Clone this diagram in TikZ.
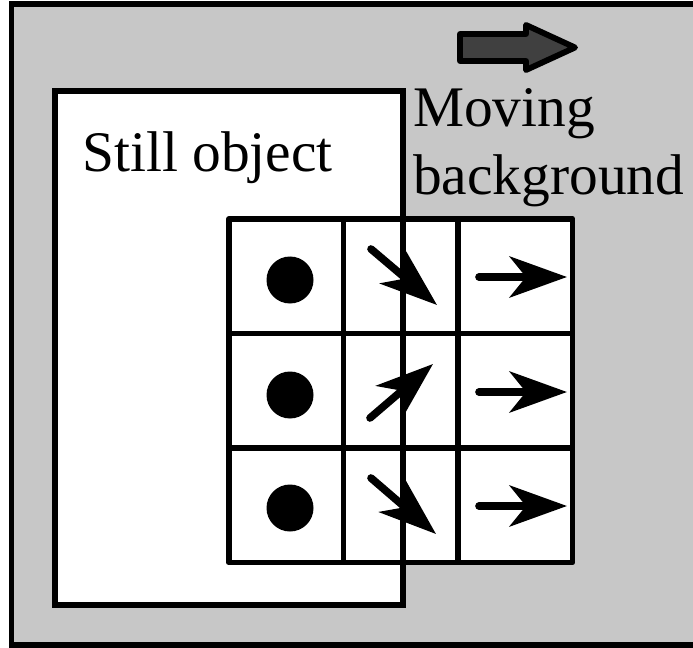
\documentclass[tikz,border=0pt]{standalone}
\usepackage{fontspec}
\setmainfont{Liberation Serif}
\usetikzlibrary{arrows.meta}

\tikzset{
  frame/.style={line width=4.5pt},
  gridline/.style={line width=5pt, line join=round},
  flow/.style={line width=6.5pt, line cap=round,
    -{Stealth[length=49pt,width=35pt,inset=14pt]}},
  tagtext/.style={anchor=base west, inner sep=0pt,
    font=\fontsize{49}{58}\selectfont},
}

\begin{document}
\begin{tikzpicture}[x=0.03cm,y=-0.03cm]
  \useasboundingbox (0,0) rectangle (693,648);

  % backdrop and frame
  \fill[black!22] (11.5,4) rectangle (693,645);
  \draw[frame] (693,4) -- (11.5,4) -- (11.5,645) -- (693,645);

  % direction of the background motion
  \draw[line width=5pt, line join=round, fill=black!75]
    (460,34) -- (526,34) -- (526,25) -- (575,47.5) -- (526,70)
    -- (526,61) -- (460,61) -- cycle;

  % still object and the grid of cells on top of it
  \fill[white] (55,91) rectangle (403,605);
  \fill[white] (229,219) rectangle (572.5,562.5);
  \foreach \x in {343.5,458}
    \draw[gridline] (\x,219) -- (\x,562.5);
  \foreach \y in {333.5,448}
    \draw[gridline] (229,\y) -- (572.5,\y);
  \draw[gridline] (229,219) rectangle (572.5,562.5);
  \draw[frame] (55,91) rectangle (403,605);

  % first column: no motion
  \foreach \y in {280,395,508}
    \fill (290,\y) circle[radius=23.5];

  % second column: motion at the edge of the object
  \draw[flow] (371,249) -- (437,305);
  \draw[flow] (370,418) -- (433,364);
  \draw[flow] (371,478) -- (436,534);

  % third column: background motion
  \foreach \y in {277,392,506}
    \draw[flow] (479,\y) -- (567,\y);

  \node[tagtext] (still) at (82,172) {Still object};
  \node[tagtext] (moving) at (413,127) {Moving};
  \node[tagtext] (backgr) at (413,195) {background};
\end{tikzpicture}
\end{document}
